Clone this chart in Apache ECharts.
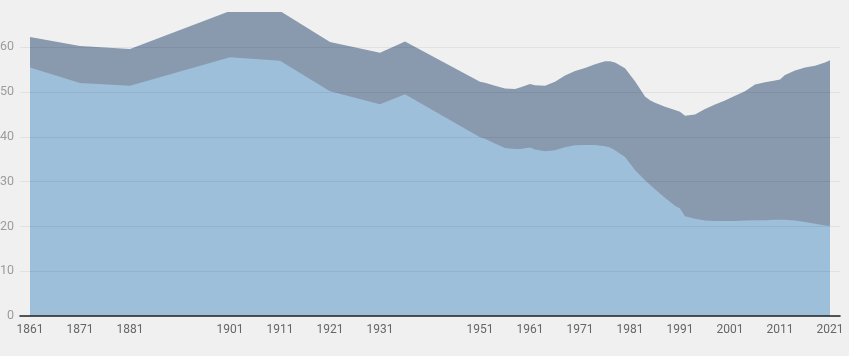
<!DOCTYPE html>
<html>
<head>
<meta charset="utf-8">
<script src="https://cdn.jsdelivr.net/npm/echarts@6/dist/echarts.min.js"></script>
<style>
  html, body { margin: 0; padding: 0; background: #f0f0f0; width: 849px; height: 356px; overflow: hidden; }
  #wrap { position: absolute; left: 0; top: 12px; width: 849px; height: 344px; overflow: hidden; }
  #chart { position: absolute; left: 0; top: -12px; width: 849px; height: 356px; }
</style>
</head>
<body>
<div id="wrap"><div id="chart"></div></div>
<script>
const years = [1861,1871,1881,1901,1911,1921,1931,1936,1951,1952,1954,1956,1958,1959,1961,1962,1964,1966,1968,1970,1972,1974,1976,1977,1978,1980,1982,1984,1985,1986,1988,1990,1991,1992,1994,1996,1998,2000,2002,2004,2006,2008,2010,2011,2012,2014,2016,2018,2020,2021];
const totalValues = [62.3,60.3,59.6,68.1,68.1,61.2,58.8,61.3,52.3,52.1,51.4,50.8,50.7,51.0,51.8,51.5,51.4,52.3,53.7,54.7,55.4,56.2,56.9,56.9,56.6,55.3,52.4,49.0,48.2,47.6,46.7,46.0,45.6,44.7,45.0,46.2,47.2,48.1,49.2,50.2,51.7,52.2,52.6,52.8,53.8,54.8,55.5,55.9,56.6,57.1];
const lowerValues = [55.5,52.0,51.4,57.8,57.0,50.2,47.3,49.5,39.9,39.6,38.5,37.5,37.3,37.3,37.6,37.2,36.8,37.0,37.7,38.1,38.2,38.2,37.9,37.6,37.0,35.5,32.6,30.3,29.3,28.3,26.4,24.6,24.0,22.3,21.7,21.3,21.2,21.2,21.2,21.3,21.4,21.4,21.5,21.5,21.5,21.3,21.0,20.6,20.2,20.1];
const xTickLabels = [1861,1871,1881,1901,1911,1921,1931,1951,1961,1971,1981,1991,2001,2011,2021];

const lowerData = years.map((y, i) => [y, lowerValues[i]]);
const totalData = years.map((y, i) => [y, totalValues[i]]);

const chart = echarts.init(document.getElementById('chart'), null, { renderer: 'canvas' });
chart.setOption({
  backgroundColor: '#f0f0f0',
  animation: false,
  grid: { left: 20, right: 9, top: 2.5, bottom: 40, containLabel: false, outerBoundsMode: 'none' },
  xAxis: {
    type: 'value', min: 1859, max: 2023, z: 4,
    axisLine: { show: true, lineStyle: { color: '#222', width: 1.6 } },
    axisTick: { show: false },
    splitLine: { show: false },
    axisLabel: {
      customValues: xTickLabels,
      color: '#666', fontSize: 12, fontFamily: 'Roboto', margin: 8,
      formatter: v => String(v)
    }
  },
  yAxis: {
    type: 'value', min: 0, max: 70, interval: 10, z: 3,
    axisLine: { show: false },
    axisTick: { show: false },
    splitLine: { show: true, lineStyle: { color: 'rgba(0,0,0,0.06)', width: 1 } },
    axisLabel: { color: '#9c9c9c', fontSize: 12.5, fontFamily: 'Roboto', margin: 6 }
  },
  series: [
    {
      type: 'line', data: totalData, showSymbol: false, symbol: 'none',
      lineStyle: { width: 0 }, areaStyle: { color: '#899aaf', opacity: 1 }, z: 1
    },
    {
      type: 'line', data: lowerData, showSymbol: false, symbol: 'none',
      lineStyle: { width: 0 }, areaStyle: { color: '#9dbfd9', opacity: 1 }, z: 2
    }
  ]
});
</script>
</body>
</html>
